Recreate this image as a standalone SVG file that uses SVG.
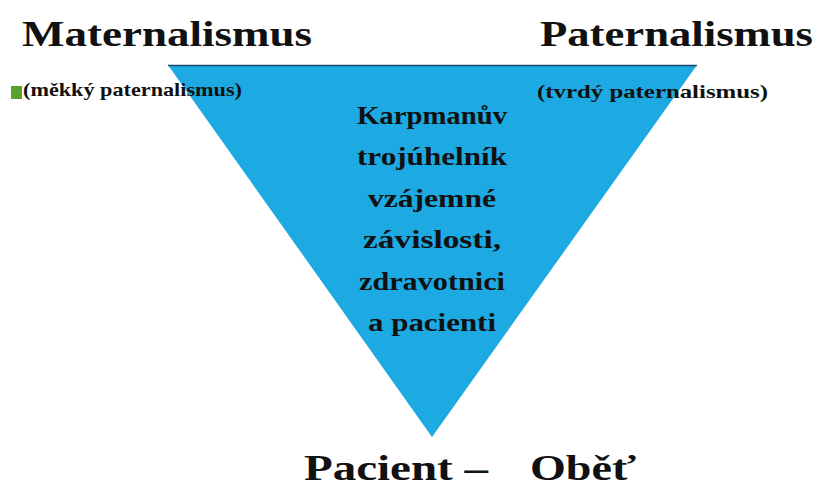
<svg xmlns="http://www.w3.org/2000/svg" width="817" height="490" viewBox="0 0 817 490">
<style>
text{font-family:'Liberation Serif','DejaVu Serif','Times New Roman',serif;font-weight:bold;fill:#111;}
.h{font-size:36px;}
.s{font-size:19px;}
.c{font-size:25px;text-anchor:middle;}
</style>
<rect width="817" height="490" fill="#ffffff"/>
<g id="triangle">
<polygon points="168,65 697,65 432,437" fill="#1DA9E1"/>
<line x1="168" y1="65.5" x2="697" y2="65.5" stroke="#1b4a6e" stroke-width="1.5"/>
</g>
<g id="maternalismus">
<text class="h" x="22" y="46" textLength="290" lengthAdjust="spacingAndGlyphs">Maternalismus</text>
<rect x="11" y="86" width="11" height="13" fill="#5aa02c"/>
<text class="s" x="23" y="96" textLength="219" lengthAdjust="spacingAndGlyphs">(měkký paternalismus)</text>
</g>
<g id="paternalismus">
<text class="h" x="540" y="46" textLength="273" lengthAdjust="spacingAndGlyphs">Paternalismus</text>
<text class="s" x="537" y="98" textLength="231" lengthAdjust="spacingAndGlyphs">(tvrdý paternalismus)</text>
</g>
<g id="center">
<text class="c" x="432" y="124" textLength="150" lengthAdjust="spacingAndGlyphs">Karpmanův</text>
<text class="c" x="432" y="165" textLength="150" lengthAdjust="spacingAndGlyphs">trojúhelník</text>
<text class="c" x="432" y="207" textLength="128" lengthAdjust="spacingAndGlyphs">vzájemné</text>
<text class="c" x="432" y="248" textLength="138" lengthAdjust="spacingAndGlyphs">závislosti,</text>
<text class="c" x="432" y="290" textLength="146" lengthAdjust="spacingAndGlyphs">zdravotnici</text>
<text class="c" x="432" y="331" textLength="128" lengthAdjust="spacingAndGlyphs">a pacienti</text>
</g>
<g id="pacient">
<text class="h" x="304" y="480" textLength="184" lengthAdjust="spacingAndGlyphs">Pacient –</text>
<text class="h" x="530" y="480" textLength="106" lengthAdjust="spacingAndGlyphs">Oběť</text>
</g>
<g id="connectors"></g>
</svg>
